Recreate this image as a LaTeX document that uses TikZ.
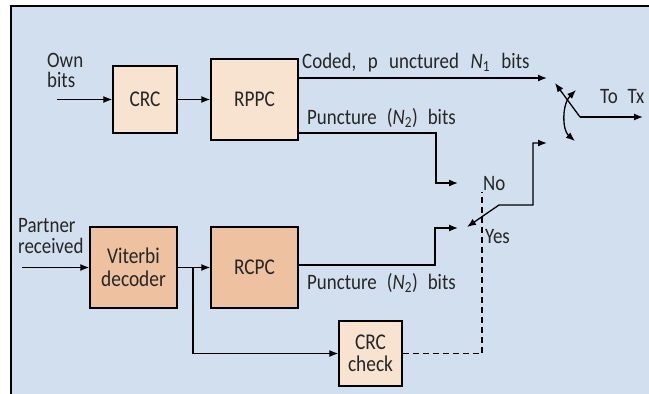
\documentclass[tikz,border=0pt]{standalone}
\usepackage{fontspec}
\setmainfont{Carlito}[FakeStretch=0.86]
\usetikzlibrary{arrows.meta}
\definecolor{bgblue}{HTML}{D2DFEE}
\definecolor{tanlight}{HTML}{F8E3D1}
\definecolor{tandark}{HTML}{EEC1A0}
\definecolor{ink}{HTML}{262626}
\newcommand\wgap{\hspace{11.5pt}}
\begin{document}
\begin{tikzpicture}[x=1pt,y=-1pt,
  >={Latex[length=9pt,width=7pt]},
  box/.style={draw=black, line width=1.4pt, inner sep=0pt, align=center, text=ink,
    font=\fontsize{22.5}{22.5}\selectfont},
  lbl/.style={inner sep=0pt, text=ink, font=\fontsize{22}{20}\selectfont},
  conn/.style={line width=1.3pt, ->},
  wire2/.style={line width=1.3pt, <->},
  ctrl/.style={line width=1.3pt, dash pattern=on 6pt off 4pt}
]
\useasboundingbox (0,0) rectangle (649,394);
\fill[white] (0,0) rectangle (649,394);
\fill[bgblue] (11,6) rectangle (649,394);
\draw[line width=2.5pt] (9.8,6) -- (649,6);
\draw[line width=2.2pt] (11,6) -- (11,394);

% boxes
\node[box, fill=tanlight, minimum width=64, minimum height=67] (crc) at (145,99.5) {CRC};
\node[box, fill=tanlight, minimum width=87, minimum height=81] (rppc) at (254.5,99.5) {RPPC};
\node[box, fill=tandark, minimum width=87, minimum height=81] (vit) at (133.5,267.5) {Viterbi\\decoder};
\node[box, fill=tandark, minimum width=87, minimum height=81] (rcpc) at (254.5,267.5) {RCPC};
\node[box, fill=tanlight, minimum width=63, minimum height=65] (crcchk) at (370.5,353.5) {CRC\\check};

% labels
\node[lbl, anchor=base west] (ownlbl) at (47,67) {Own};
\node[lbl, anchor=base west] (ownlbl2) at (47,87) {bits};
\node[lbl, anchor=base west] (partlbl) at (18,232) {Partner};
\node[lbl, anchor=base west] (partlbl2) at (18,253) {received};
\node[lbl, anchor=base west] (codedlbl) at (302,68) {Coded,\wgap p\wgap unctured\wgap\textit{N}\textsubscript{1}\wgap bits};
\node[lbl, anchor=base west] (punc1) at (307,124) {Puncture\hspace{10pt}(\textit{N}\textsubscript{2})\hspace{10pt}bits};
\node[lbl, anchor=base west] (punc2) at (307,289) {Puncture\hspace{10pt}(\textit{N}\textsubscript{2})\hspace{10pt}bits};
\node[lbl, anchor=base west] (nolbl) at (483,190) {No};
\node[lbl, anchor=base west] (yeslbl) at (485,243) {Yes};
\node[lbl, anchor=base west] (txlbl) at (600,103) {To\hspace{10pt}Tx};

% coordinates
\coordinate (ownin) at (57,99.5);
\coordinate (partin) at (22,267.5);
\coordinate (codedend) at (547,78);
\coordinate (p1) at (436,133);
\coordinate (noend) at (458,183);
\coordinate (p2) at (435,265);
\coordinate (yesend) at (458,228);
\coordinate (armtip) at (467,227);
\coordinate (armbend) at (499,205);
\coordinate (armcorner) at (533,205);
\coordinate (armend) at (547,143);
\coordinate (br) at (193,267.5);
\coordinate (dashcorner) at (482,353.5);
\coordinate (dashend) at (482,192);
\coordinate (piv) at (580,117);
\coordinate (txend) at (643,117);
\coordinate (levertip) at (555,83);
\coordinate (arcA) at (576,90);
\coordinate (arcB) at (575,141);

% connectors
\draw[conn] (ownin) -- (crc);
\draw[conn] (crc) -- (rppc);
\draw[conn] (rppc.east |- codedend) -- (codedend);
\draw[conn] (rppc.east |- p1) -- (p1) -- (p1 |- noend) -- (noend);
\draw[conn] (partin) -- (vit);
\draw[conn] (vit) -- (rcpc);
\draw[conn] (br) -- (br |- crcchk) -- (crcchk);
\draw[conn] (rcpc.east |- p2) -- (p2) -- (p2 |- yesend) -- (yesend);
\draw[wire2] (armtip) -- (armbend) -- (armcorner) -- (armcorner |- armend) -- (armend);
\draw[ctrl] (crcchk) -- (dashcorner) -- (dashend);
\draw[conn] (piv) -- (txend);
\draw[conn] (piv) -- (levertip);
\draw[wire2] (arcA) .. controls (562,104) and (562,130) .. (arcB);
\end{tikzpicture}
\end{document}
